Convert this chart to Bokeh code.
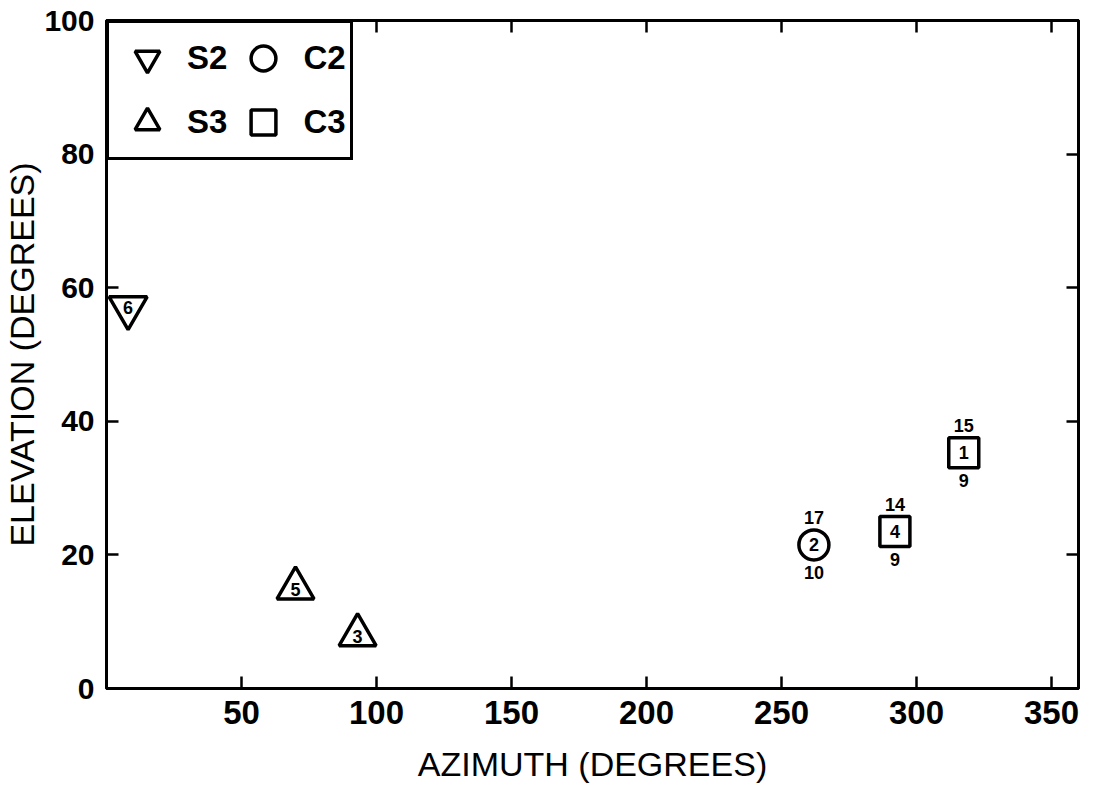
from bokeh.plotting import figure
from bokeh.models import Range1d, LinearAxis, FixedTicker, Legend, LegendItem
from bokeh.embed import file_html
from bokeh.resources import INLINE

# ---- data ----
s2_az = [8.0]
s2_el = [57.0]
s2_id = ["6"]

s3_az = [70.0, 93.0]
s3_el = [15.0, 8.0]
s3_id = ["5", "3"]

c2_az = [262.0]
c2_el = [21.5]
c2_id = ["2"]
c2_top = ["17"]
c2_bot = ["10"]

c3_az = [292.0, 317.5]
c3_el = [23.5, 35.3]
c3_id = ["4", "1"]
c3_top = ["14", "15"]
c3_bot = ["9", "9"]

x_ticks = [50, 100, 150, 200, 250, 300, 350]
y_ticks = [0, 20, 40, 60, 80, 100]

p = figure(width=1080, height=785, x_range=Range1d(0, 360), y_range=Range1d(0, 100),
           output_backend="svg", toolbar_location=None,
           min_border_left=99, min_border_right=2, min_border_top=20, min_border_bottom=90)
p.xgrid.visible = False
p.ygrid.visible = False
p.outline_line_color = "black"
p.outline_line_width = 3
p.background_fill_color = "white"
p.border_fill_color = "white"

xa = p.below[0]
ya = p.left[0]

top_axis = LinearAxis()
right_axis = LinearAxis()
p.add_layout(top_axis, "above")
p.add_layout(right_axis, "right")

for ax in [xa, top_axis]:
    ax.ticker = FixedTicker(ticks=x_ticks)
for ax in [ya, right_axis]:
    ax.ticker = FixedTicker(ticks=y_ticks)

for ax in [xa, ya, top_axis, right_axis]:
    ax.axis_line_width = 3
    ax.axis_line_color = "black"
    ax.major_tick_line_width = 2.5
    ax.major_tick_line_color = "black"
    ax.major_tick_in = 12
    ax.major_tick_out = 0
    ax.minor_tick_in = 0
    ax.minor_tick_out = 0
    ax.minor_tick_line_color = None

top_axis.major_label_overrides = {t: "" for t in x_ticks}
right_axis.major_label_overrides = {t: "" for t in y_ticks}
for ax in [top_axis, right_axis]:
    ax.major_label_text_font_size = "1px"
    ax.major_label_standoff = 0

xa.major_label_text_font = "Liberation Sans"
xa.major_label_text_font_size = "33px"
xa.major_label_text_font_style = "bold"
xa.major_label_text_color = "black"
xa.major_label_standoff = 12
xa.axis_label = "AZIMUTH (DEGREES)"
xa.axis_label_text_font = "Liberation Sans"
xa.axis_label_text_font_size = "34px"
xa.axis_label_text_font_style = "normal"
xa.axis_label_text_color = "black"
xa.axis_label_standoff = 18

ya.major_label_text_font = "Liberation Sans"
ya.major_label_text_font_size = "30px"
ya.major_label_text_font_style = "bold"
ya.major_label_text_color = "black"
ya.major_label_standoff = 12
ya.axis_label = "ELEVATION (DEGREES)"
ya.axis_label_text_font = "Liberation Sans"
ya.axis_label_text_font_size = "34px"
ya.axis_label_text_font_style = "normal"
ya.axis_label_text_color = "black"
ya.axis_label_standoff = 0

mk = dict(fill_color="white", line_color="black", line_width=3.5)
r_s2 = p.scatter(s2_az, s2_el, marker="inverted_triangle", size=38, **mk)
r_s3 = p.scatter(s3_az, s3_el, marker="triangle", size=37, **mk)
r_c2 = p.scatter(c2_az, c2_el, marker="circle", size=30, **mk)
r_c3 = p.scatter(c3_az, c3_el, marker="square", size=30, **mk)

tk = dict(text_align="center", text_baseline="middle", text_font_size="18px",
          text_font_style="bold", text_color="black")
p.text(s2_az, s2_el, text=s2_id, **tk)
p.text(s3_az, s3_el, text=s3_id, y_offset=1, **tk)
p.text(c2_az, c2_el, text=c2_id, **tk)
p.text(c3_az, c3_el, text=c3_id, **tk)
p.text(c2_az, c2_el, text=c2_top, y_offset=-27, **tk)
p.text(c2_az, c2_el, text=c2_bot, y_offset=28, **tk)
p.text(c3_az, c3_el, text=c3_top, y_offset=-27, **tk)
p.text(c3_az, c3_el, text=c3_bot, y_offset=28, **tk)

legend = Legend(items=[LegendItem(label="S2", renderers=[r_s2]),
                       LegendItem(label="S3", renderers=[r_s3]),
                       LegendItem(label="C2", renderers=[r_c2]),
                       LegendItem(label="C3", renderers=[r_c3])],
                location="top_left", orientation="vertical", ncols=2,
                glyph_width=68, glyph_height=62, label_standoff=6,
                label_text_font="Liberation Sans", label_text_font_size="33px",
                label_text_font_style="bold", label_text_color="black",
                border_line_color="black", border_line_width=3, border_line_alpha=1.0,
                background_fill_color="white", background_fill_alpha=1.0,
                margin=0, padding=4, spacing=2)
p.add_layout(legend)

open("out.html", "w").write(file_html(p, INLINE))
